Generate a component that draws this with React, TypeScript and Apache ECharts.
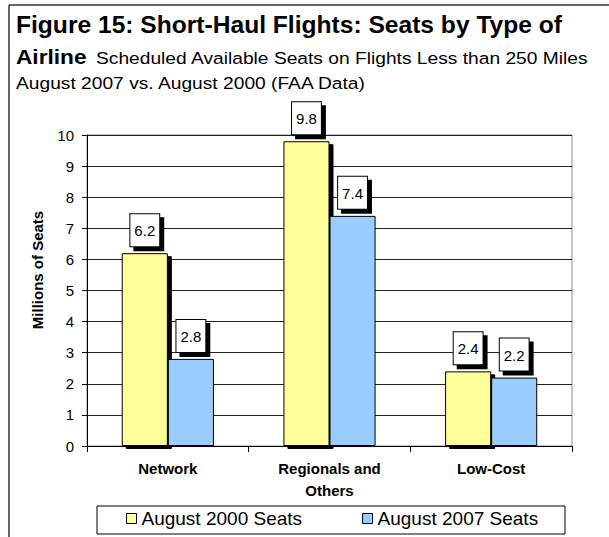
import React, { useEffect, useRef } from "react";
import * as echarts from "echarts";

const categories = ["Network", "Regionals and\nOthers", "Low-Cost"];
const seats2000 = [6.2, 9.8, 2.4];
const seats2007 = [2.8, 7.4, 2.2];
const seriesNames = ["August 2000 Seats", "August 2007 Seats"];
const yTicks = { min: 0, max: 10, interval: 1 };
const titleLine1 = "Figure 15: Short-Haul Flights: Seats by Type of";
const titleLine2Bold = "Airline";
const titleLine2 = "Scheduled Available Seats on Flights Less than 250 Miles";
const titleLine3 = "August 2007 vs. August 2000 (FAA Data)";
const yAxisName = "Millions of Seats";

const FONT = "'Liberation Sans', Arial, Helvetica, sans-serif";

export default function App() {
  const ref = useRef<HTMLDivElement>(null);

  useEffect(() => {
    if (!ref.current) return;
    const chart = echarts.init(ref.current, undefined, { renderer: "svg" });

    const labelStyle = {
      show: true,
      position: "top",
      distance: 7,
      formatter: (p: any) => Number(p.value).toFixed(1),
      fontFamily: FONT,
      fontSize: 15,
      color: "#000",
      backgroundColor: "#fff",
      borderColor: "#000",
      borderWidth: 1,
      padding: [9, 4, 8, 4],
      shadowColor: "#000",
      shadowOffsetX: 4,
      shadowOffsetY: 4,
      shadowBlur: 0,
    };

    chart.setOption({
      animation: false,
      backgroundColor: "#fff",
      textStyle: { fontFamily: FONT, color: "#000" },
      grid: {
        left: 87,
        top: 135,
        right: 37,
        bottom: 91,
        show: true,
        borderColor: "#8c8c8c",
        borderWidth: 1,
        backgroundColor: "transparent",
      },
      xAxis: {
        type: "category",
        data: categories,
        axisLine: { lineStyle: { color: "#000", width: 1 } },
        axisTick: { show: true, length: 6, lineStyle: { color: "#000" } },
        axisLabel: {
          fontFamily: FONT,
          fontSize: 15,
          fontWeight: "bold",
          color: "#000",
          lineHeight: 22,
          margin: 11,
        },
      },
      yAxis: {
        type: "value",
        min: yTicks.min,
        max: yTicks.max,
        interval: yTicks.interval,
        axisLine: { show: true, lineStyle: { color: "#000", width: 1 } },
        axisTick: { show: true, length: 5, lineStyle: { color: "#000" } },
        axisLabel: {
          fontFamily: FONT,
          fontSize: 15,
          color: "#000",
          margin: 13,
        },
        splitLine: { show: true, lineStyle: { color: "#222", width: 1 } },
      },
      legend: {
        data: seriesNames,
        left: 126,
        top: 509,
        padding: 0,
        itemWidth: 10,
        itemHeight: 10,
        itemGap: 60,
        icon: "rect",
        textStyle: { fontFamily: FONT, fontSize: 19, color: "#000" },
        itemStyle: {
          borderColor: "#000",
          borderWidth: 1,
          shadowColor: "transparent",
          shadowBlur: 0,
          shadowOffsetX: 0,
          shadowOffsetY: 0,
        },
      },
      series: [
        {
          name: seriesNames[0],
          type: "bar",
          data: seats2000,
          barGap: "0%",
          barCategoryGap: "43%",
          itemStyle: {
            color: "#FFFF99",
            borderColor: "#000",
            borderWidth: 1,
            shadowColor: "#000",
            shadowOffsetX: 4,
            shadowOffsetY: 3,
            shadowBlur: 0,
          },
          label: labelStyle,
        },
        {
          name: seriesNames[1],
          type: "bar",
          data: seats2007,
          barGap: "0%",
          barCategoryGap: "43%",
          itemStyle: {
            color: "#99CCFF",
            borderColor: "#000",
            borderWidth: 1,
          },
          label: labelStyle,
        },
      ],
      graphic: [
        {
          type: "line",
          shape: { x1: 9, y1: 5, x2: 609, y2: 5 },
          style: { stroke: "#333", lineWidth: 1.5 },
          silent: true,
        },
        {
          type: "line",
          shape: { x1: 9, y1: 5, x2: 9, y2: 537 },
          style: { stroke: "#333", lineWidth: 1.5 },
          silent: true,
        },
        {
          type: "text",
          x: 16,
          y: 25,
          scaleX: 1.07,
          style: {
            text: titleLine1,
            font: `bold 23px ${FONT}`,
            fill: "#000",
            verticalAlign: "middle",
          },
        },
        {
          type: "text",
          x: 16,
          y: 57,
          scaleX: 1.08,
          style: {
            text: titleLine2Bold,
            font: `bold 21px ${FONT}`,
            fill: "#000",
            verticalAlign: "middle",
          },
        },
        {
          type: "text",
          x: 96,
          y: 58,
          scaleX: 1.13,
          style: {
            text: titleLine2,
            font: `17px ${FONT}`,
            fill: "#000",
            verticalAlign: "middle",
          },
        },
        {
          type: "text",
          x: 16,
          y: 83,
          scaleX: 1.13,
          style: {
            text: titleLine3,
            font: `17px ${FONT}`,
            fill: "#000",
            verticalAlign: "middle",
          },
        },
        {
          type: "text",
          x: 37,
          y: 270,
          rotation: Math.PI / 2,
          style: {
            text: yAxisName,
            font: `bold 15px ${FONT}`,
            fill: "#000",
            align: "center",
            verticalAlign: "middle",
          },
        },
        {
          type: "rect",
          shape: { x: 97, y: 506, width: 468, height: 28 },
          style: { fill: "#fff", stroke: "#000", lineWidth: 1 },
          z: -1,
          silent: true,
        },
      ],
    });

    return () => chart.dispose();
  }, []);

  return (
    <div
      ref={ref}
      style={{
        position: "fixed",
        left: 0,
        top: 0,
        width: 609,
        height: 537,
        background: "#fff",
      }}
    />
  );
}
